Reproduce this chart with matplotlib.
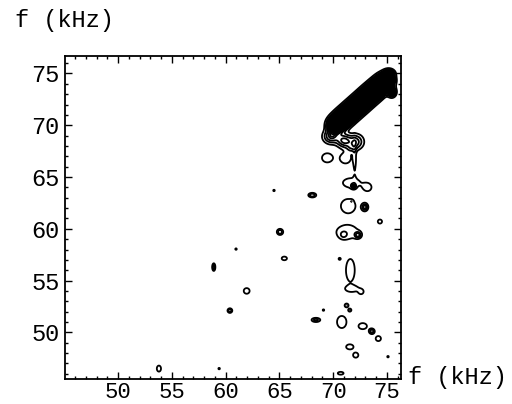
import numpy as np
import matplotlib
matplotlib.use("Agg")
from matplotlib import pyplot as plt
from matplotlib.ticker import MultipleLocator

plt.rcParams["font.family"] = ["Liberation Mono", "DejaVu Sans Mono"]

# ridge of the strong band (centre points, kHz)
band_x = [70.2, 70.6, 71.0, 71.4, 71.8, 72.2, 72.6, 73.0, 73.4, 73.8, 74.2, 74.6, 74.95]
band_y = [70.0, 70.37, 70.74, 71.1, 71.47, 71.84, 72.2, 72.58, 72.95, 73.3, 73.68, 74.05, 74.35]
band_amp = [11, 13, 14, 14, 14, 14, 14, 14, 14, 14, 13, 11, 9]
band_sigma = 0.45

# isolated spots: x, y, amplitude, width in x, width in y
spot_x = [75.2, 75.45, 69.8, 71.0, 72.1, 71.7, 72.0,
          69.45, 71.15, 71.7, 73.2, 71.9,
          71.4, 71.7, 72.95, 74.35,
          71.3, 70.95, 72.3,
          71.6, 72.6, 71.8, 70.6,
          71.25, 71.55, 69.1, 68.4, 70.8, 72.75, 73.6, 74.2,
          71.55, 72.1, 75.1, 70.7,
          64.5, 68.06, 65.06, 60.97, 65.46, 58.9, 61.96, 60.4, 53.8, 59.4]
spot_y = [75.0, 73.2, 68.9, 68.5, 68.4, 67.8, 66.6,
          66.85, 66.8, 64.45, 64.0, 64.1,
          62.2, 62.65, 62.1, 60.7,
          59.7, 59.4, 59.4,
          56.0, 53.9, 54.2, 57.1,
          52.6, 52.15, 52.15, 51.2, 51.0, 50.6, 50.1, 49.4,
          48.6, 47.8, 47.65, 46.05,
          63.7, 63.25, 59.7, 58.04, 57.14, 56.3, 54.0, 52.1, 46.5, 46.5]
spot_amp = [6.0, 6.0, 4.0, 4.0, 3.5, 1.5, 1.3,
            1.6, 1.6, 1.6, 1.6, 3.0,
            1.5, 0.9, 3.5, 1.6,
            1.6, 1.2, 3.0,
            1.5, 1.6, 1.4, 1.3,
            2.0, 2.0, 1.3, 2.5, 1.6, 1.6, 3.0, 1.6,
            1.6, 1.6, 1.3, 1.5,
            1.3, 3.0, 3.0, 1.3, 1.6, 3.0, 1.6, 3.0, 1.6, 1.3]
spot_sx = [0.3, 0.25, 0.5, 0.45, 0.5, 0.3, 0.12,
           0.5, 0.5, 0.8, 0.35, 0.15,
           0.75, 0.1, 0.2, 0.2,
           1.0, 0.25, 0.2,
           0.45, 0.2, 0.6, 0.12,
           0.15, 0.12, 0.1, 0.3, 0.45, 0.4, 0.18, 0.25,
           0.35, 0.25, 0.1, 0.3,
           0.1, 0.25, 0.2, 0.1, 0.25, 0.1, 0.28, 0.15, 0.2, 0.1]
spot_sy = [0.25, 0.3, 0.45, 0.45, 0.5, 0.3, 1.2,
           0.45, 0.5, 0.45, 0.35, 0.15,
           0.75, 0.1, 0.25, 0.2,
           0.65, 0.25, 0.2,
           1.2, 0.2, 0.25, 0.12,
           0.15, 0.12, 0.1, 0.15, 0.6, 0.3, 0.18, 0.25,
           0.25, 0.25, 0.1, 0.15,
           0.1, 0.15, 0.2, 0.1, 0.18, 0.25, 0.28, 0.15, 0.3, 0.1]

levels = np.concatenate([[1, 2, 3], np.arange(4, 50, 0.5)])

gx = np.arange(44.5, 77.0, 0.05)
gy = np.arange(44.5, 77.5, 0.05)
X, Y = np.meshgrid(gx, gy)
Z = np.zeros_like(X)
for bx, by, a in zip(band_x, band_y, band_amp):
    Z += a * np.exp(-((X - bx) ** 2 + (Y - by) ** 2) / (2 * band_sigma ** 2))
for sx0, sy0, a, wx, wy in zip(spot_x, spot_y, spot_amp, spot_sx, spot_sy):
    Z += a * np.exp(-((X - sx0) ** 2 / (2 * wx ** 2) + (Y - sy0) ** 2 / (2 * wy ** 2)))

fig = plt.figure(figsize=(5.12, 4.04), dpi=100)
ax = fig.add_axes([0.127, 0.062, 0.656, 0.799])
ax.contour(X, Y, Z, levels=levels, colors="black", linewidths=1.3)
ax.set_xlim(45.07, 76.3)
ax.set_ylim(45.5, 76.67)
ax.xaxis.set_major_locator(MultipleLocator(5))
ax.yaxis.set_major_locator(MultipleLocator(5))
ax.xaxis.set_minor_locator(MultipleLocator(1))
ax.yaxis.set_minor_locator(MultipleLocator(1))
ax.tick_params(which="both", direction="in", top=True, right=True, width=1)
ax.tick_params(which="major", length=5)
ax.tick_params(which="minor", length=2.5)
ax.tick_params(axis="x", labelsize=16, pad=2)
ax.tick_params(axis="y", labelsize=17, pad=4)
for s in ax.spines.values():
    s.set_linewidth(1.3)

fig.text(0.03, 0.977, "f (kHz)", fontsize=17, va="top", ha="left")
fig.text(0.797, 0.066, "f (kHz)", fontsize=17, va="center", ha="left")

plt.savefig("out.png", dpi=100)
